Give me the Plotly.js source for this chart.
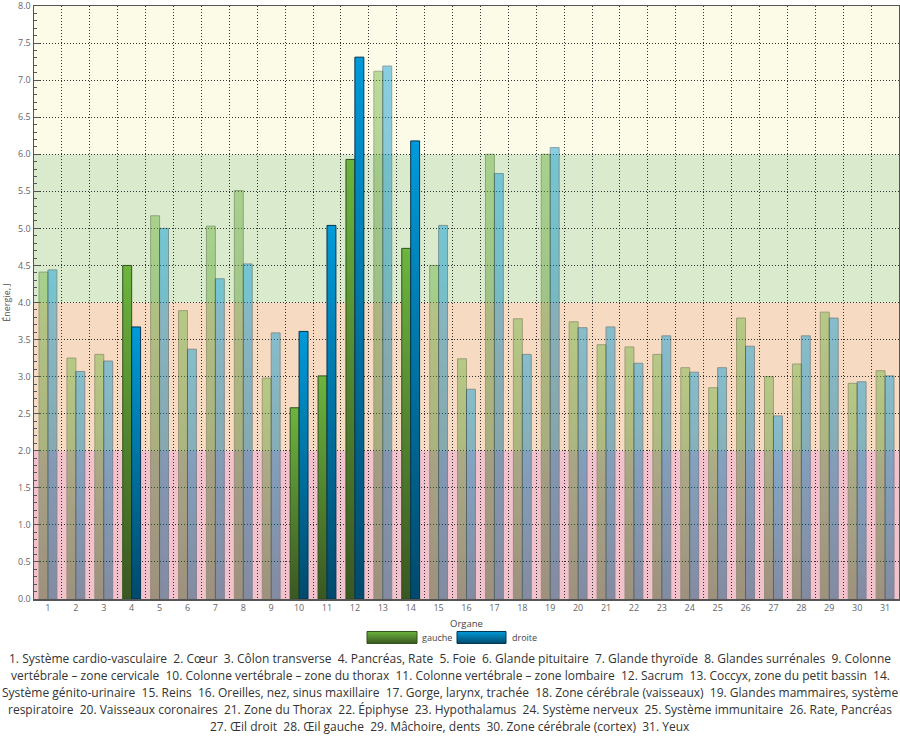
<!DOCTYPE html>
<html><head><meta charset="utf-8">
<script src="https://cdn.plot.ly/plotly-3.0.1.min.js"></script>
<style>body{margin:0;background:#fff}#chart{width:900px;height:736px}</style>
</head><body><div id="chart"></div>
<script>
const categories = ['1','2','3','4','5','6','7','8','9','10','11','12','13','14','15','16','17','18','19','20','21','22','23','24','25','26','27','28','29','30','31'];
const gauche = [4.41,3.25,3.30,4.50,5.17,3.89,5.03,5.51,2.98,2.58,3.01,5.93,7.12,4.73,4.50,3.24,6.00,3.78,6.00,3.74,3.43,3.40,3.30,3.12,2.85,3.79,3.00,3.17,3.87,2.91,3.08];
const droite = [4.44,3.07,3.21,3.67,5.00,3.37,4.32,4.52,3.59,3.61,5.04,7.31,7.19,6.18,5.04,2.83,5.74,3.30,6.09,3.66,3.67,3.18,3.55,3.06,3.12,3.41,2.47,3.55,3.79,2.93,3.01];
const highlighted = ['4','10','11','12','14'];
const seriesNames = ['gauche','droite'];
const organs = ['Système cardio-vasculaire','Cœur','Côlon transverse','Pancréas, Rate','Foie','Glande pituitaire','Glande thyroïde','Glandes surrénales','Colonne vertébrale – zone cervicale','Colonne vertébrale – zone du thorax','Colonne vertébrale – zone lombaire','Sacrum','Coccyx, zone du petit bassin','Système génito-urinaire','Reins','Oreilles, nez, sinus maxillaire','Gorge, larynx, trachée','Zone cérébrale (vaisseaux)','Glandes mammaires, système respiratoire','Vaisseaux coronaires','Zone du Thorax','Épiphyse','Hypothalamus','Système nerveux','Système immunitaire','Rate, Pancréas','Œil droit','Œil gauche','Mâchoire, dents','Zone cérébrale (cortex)','Yeux'];
const bandEdges = [0,2,4,6,8];
const bandColors = ['#f1c2cc','#f6dbc2','#d9eacd','#fcfbe8'];

const FONT = '"Open Sans", sans-serif';
const opac = categories.map(c => highlighted.includes(c) ? 1 : 0.45);

const data = [
  {type:'bar', name:seriesNames[0], x:categories, y:gauche,
   marker:{color:'#53882f', opacity:opac, line:{color:'#2f5219', width:1}}},
  {type:'bar', name:seriesNames[1], x:categories, y:droite,
   marker:{color:'#0076a8', opacity:opac, line:{color:'#003452', width:1}}}
];

const L=34, R=1, T=6, B=136.5, W=900, H=736;
const pw = W-L-R, ph = H-T-B;
const px = v => (v-L)/pw;
const py = v => (H-B-v)/ph;

const shapes = bandColors.map((c,i)=>({type:'rect', layer:'below', xref:'paper', yref:'y',
  x0:0, x1:1, y0:bandEdges[i], y1:bandEdges[i+1], fillcolor:c, line:{width:0}}));
shapes.push({type:'rect', xref:'paper', yref:'paper', x0:px(367), x1:px(417), y0:py(644), y1:py(632), fillcolor:'#53882f', line:{color:'#2f5219', width:1}});
shapes.push({type:'rect', xref:'paper', yref:'paper', x0:px(457), x1:px(506), y0:py(644), y1:py(632), fillcolor:'#0076a8', line:{color:'#003452', width:1}});

const annotations = [
  {xref:'paper', yref:'paper', x:px(420), y:py(638.5), xanchor:'left', yanchor:'middle', showarrow:false, text:seriesNames[0], font:{family:FONT, size:9, color:'#444'}},
  {xref:'paper', yref:'paper', x:px(510), y:py(638.5), xanchor:'left', yanchor:'middle', showarrow:false, text:seriesNames[1], font:{family:FONT, size:9, color:'#444'}}
];

const FS = 12;
const ctx = document.createElement('canvas').getContext('2d');
ctx.font = FS + 'px "Open Sans"';
const tokens = [];
organs.forEach((n,i)=>{
  (`${i+1}. ${n}`).split(' ').forEach((w,j)=>tokens.push({w, start: j===0 && i>0}));
});
const lines=[]; let cur='';
const maxW = 899;
tokens.forEach(t=>{
  const sep = cur==='' ? '' : (t.start ? '\u00a0 ' : ' ');
  const cand = cur + sep + t.w;
  if (cur!=='' && ctx.measureText(cand).width > maxW) { lines.push(cur); cur = t.w; }
  else cur = cand;
});
if (cur) lines.push(cur);
lines.forEach((ln,i)=>annotations.push({xref:'paper', yref:'paper', x:px(450), y:py(659+17*i), xanchor:'center', yanchor:'middle', showarrow:false, text:ln, font:{family:FONT, size:FS, color:'#333'}}));

const layout = {
  width:W, height:H, margin:{l:L, r:R, t:T, b:B, pad:0},
  paper_bgcolor:'#fff', plot_bgcolor:'#fff',
  font:{family:FONT, color:'#555'},
  showlegend:false, barmode:'group', bargap:0.36, bargroupgap:0,
  xaxis:{type:'category', tickson:'boundaries', ticks:'', showgrid:true, gridcolor:'#333', griddash:'1px,2px', gridwidth:1,
    showline:true, linecolor:'#555', linewidth:1.5, mirror:true, tickfont:{size:9, color:'#666'},
    title:{text:'Organe', font:{size:9.5, color:'#444'}, standoff:7}},
  yaxis:{range:[0,8], dtick:0.5, tickformat:'.1f', ticks:'inside', ticklen:6, tickcolor:'#555', ticklabeloverflow:'allow',
    minor:{dtick:0.1, ticks:'inside', ticklen:3, tickcolor:'#555', showgrid:false},
    showgrid:true, gridcolor:'#333', griddash:'1px,2px', gridwidth:1, zeroline:false,
    showline:true, linecolor:'#555', linewidth:1.5, mirror:true, tickfont:{size:9, color:'#666'},
    title:{text:'Énergie, J', font:{size:9, color:'#555'}, standoff:6}},
  shapes, annotations
};

Plotly.newPlot('chart', data, layout, {staticPlot:true}).then(gd=>{
  const ns='http://www.w3.org/2000/svg';
  const svg = gd.querySelector('.main-svg');
  let defs = svg.querySelector('defs');
  if(!defs){defs=document.createElementNS(ns,'defs'); svg.insertBefore(defs, svg.firstChild);}
  function grad(id, top, bottom){
    const g=document.createElementNS(ns,'linearGradient');
    g.setAttribute('id',id); g.setAttribute('x1','0'); g.setAttribute('y1','0'); g.setAttribute('x2','0'); g.setAttribute('y2','1');
    [[0,top],[1,bottom]].forEach(([o,c])=>{const s=document.createElementNS(ns,'stop'); s.setAttribute('offset',o); s.setAttribute('stop-color',c); g.appendChild(s);});
    defs.appendChild(g);
  }
  grad('gradG','#6cb53e','#3a5722');
  grad('gradB','#009ad9','#004a6c');
  const traces = gd.querySelectorAll('.barlayer .trace');
  if(traces[0]) traces[0].querySelectorAll('path').forEach(p=>p.style.fill='url(#gradG)');
  if(traces[1]) traces[1].querySelectorAll('path').forEach(p=>p.style.fill='url(#gradB)');
  const n = bandColors.length;
  gd.querySelectorAll('.shapelayer path').forEach(p=>{
    const idx = +p.getAttribute('data-index');
    if(idx===n) p.style.fill='url(#gradG)';
    if(idx===n+1) p.style.fill='url(#gradB)';
  });
});
</script>
</body></html>
